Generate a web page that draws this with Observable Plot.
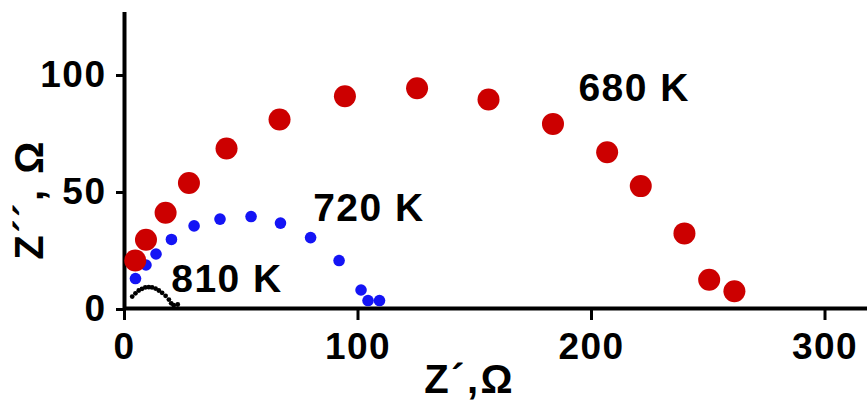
<!DOCTYPE html>
<html><head><meta charset="utf-8">
<script src="https://cdn.jsdelivr.net/npm/d3@7"></script>
<script src="https://cdn.jsdelivr.net/npm/@observablehq/plot@0.6"></script>
<style>
body{margin:0;background:#fff}
#chart svg{display:block;font-family:"Liberation Sans",Arial,sans-serif;font-weight:bold}
#chart svg text{letter-spacing:1.5px}
#chart svg g.title text{letter-spacing:2.5px}
</style>
</head><body><div id="chart"></div>
<script>
// 680 K (red)
const k680X = [4.6, 9.2, 17.6, 27.6, 43.7, 66.4, 94.4, 125.3, 155.9, 183.5, 206.7, 221.1, 239.8, 250.4, 261.2];
const k680Y = [20.5, 29.4, 40.9, 53.6, 68.4, 80.8, 90.7, 94.1, 89.3, 78.9, 66.8, 52.3, 32.1, 12.3, 7.4];
// 720 K (blue)
const k720X = [4.7, 9.2, 13.5, 20.1, 29.8, 40.9, 54.2, 66.8, 79.7, 91.9, 101.3, 104.3, 109.2];
const k720Y = [12.8, 18.6, 23.3, 29.5, 35.3, 38.2, 39.3, 36.5, 30.3, 20.5, 7.9, 3.4, 3.4];
// 810 K (black)
const k810X = [3.3, 4.7, 6.1, 7.5, 8.9, 10.4, 11.8, 13.3, 14.7, 16.1, 17.6, 19.0, 20.0, 21.1, 22.8];
const k810Y = [5.1, 6.5, 7.7, 8.4, 9.0, 9.1, 9.0, 8.5, 7.7, 6.7, 5.4, 3.8, 2.2, 1.4, 1.7];

const labelText = ["680 K", "720 K", "810 K"];
const labelX = [194.4, 80.8, 20.0];
const labelY = [94.2, 42.7, 12.4];

const xTicks = [0, 100, 200, 300];
const yTicks = [0, 50, 100];
const xTitle = "Z´,Ω";
const yTitle = "Z´´, Ω";
const xTitleX = 147.8;
const yTitleY = 46.6;

const pts = (xs, ys) => xs.map((x, i) => ({x, y: ys[i]}));
const labels = labelText.map((t, i) => ({t, x: labelX[i], y: labelY[i]}));

const chart = Plot.plot({
  width: 867,
  height: 403,
  marginLeft: 124,
  marginRight: 0,
  marginTop: 12,
  marginBottom: 95,
  x: {domain: [0, 318.2]},
  y: {domain: [0, 126.5]},
  marks: [
    Plot.axisX({ticks: xTicks, tickSize: 12, tickPadding: 12, strokeWidth: 3, fontSize: 37, fontWeight: "bold", tickFormat: d3.format("d"), label: null}),
    Plot.axisY({ticks: yTicks, tickSize: 8, tickPadding: 10, strokeWidth: 3, fontSize: 37, fontWeight: "bold", dy: 1, tickFormat: d3.format("d"), label: null}),
    Plot.ruleY([0], {stroke: "black", strokeWidth: 4}),
    Plot.ruleX([0], {stroke: "black", strokeWidth: 4}),
    Plot.dot(pts(k810X, k810Y), {x: "x", y: "y", r: 2.4, fill: "black"}),
    Plot.dot(pts(k720X, k720Y), {x: "x", y: "y", r: 5.8, fill: "#1414f5"}),
    Plot.dot(pts(k680X, k680Y), {x: "x", y: "y", r: 11, fill: "#cc0000"}),
    Plot.text(labels, {x: "x", y: "y", text: "t", textAnchor: "start", lineAnchor: "middle", fontSize: 39, fontWeight: "bold", fill: "black"}),
    Plot.text([xTitle], {x: () => xTitleX, text: d => d, frameAnchor: "bottom", textAnchor: "middle", lineAnchor: "bottom", dy: 84, fontSize: 40, fontWeight: "bold", fill: "black", className: "title"}),
    Plot.text([yTitle], {y: () => yTitleY, text: d => d, frameAnchor: "left", textAnchor: "middle", lineAnchor: "middle", dx: -94, rotate: -90, fontSize: 40, fontWeight: "bold", fill: "black", className: "title"})
  ]
});
document.getElementById("chart").append(chart);
</script>
</body></html>
